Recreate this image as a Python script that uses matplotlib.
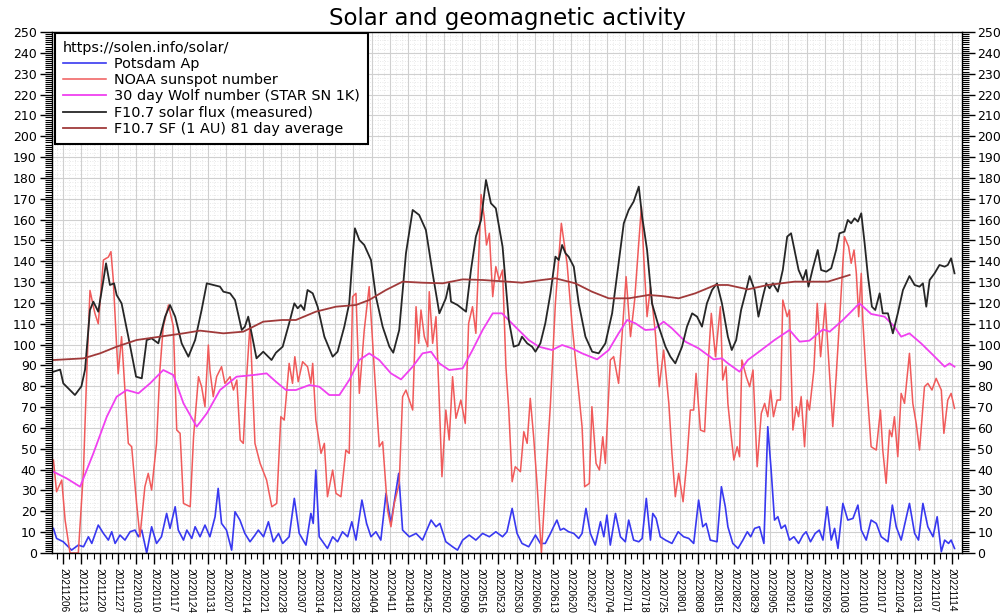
import matplotlib
matplotlib.use("Agg")
import matplotlib.pyplot as plt
from matplotlib.ticker import MultipleLocator

plt.rcParams['font.family'] = ['DejaVu Sans']

# x values are days counted from 2021-12-06 (first labelled week)
week_labels = ['20211206', '20211213', '20211220', '20211227', '20220103', '20220110',
               '20220117', '20220124', '20220131', '20220207', '20220214', '20220221',
               '20220228', '20220307', '20220314', '20220321', '20220328', '20220404',
               '20220411', '20220418', '20220425', '20220502', '20220509', '20220516',
               '20220523', '20220530', '20220606', '20220613', '20220620', '20220627',
               '20220704', '20220711', '20220718', '20220725', '20220801', '20220808',
               '20220815', '20220822', '20220829', '20220905', '20220912', '20220919',
               '20220926', '20221003', '20221010', '20221017', '20221024', '20221031',
               '20221107', '20221114']

ap_day = [-3.8, -2.6, 0, 3.2, 5.8, 7.8, 9.7, 11, 13.5, 15.5, 17.4, 18.7, 20, 21.9, 23.8, 25.8,
          27.7, 29, 30.3, 32.2, 34.1, 36, 37.9, 39.9, 41.2, 43.2, 44.4, 46.4, 47.7, 49.6, 50.9,
          52.8, 54.7, 56.6, 58.6, 59.8, 61.1, 63, 65, 66.3, 68.2, 70.1, 72.1, 74, 75.3, 77.3,
          79.2, 81.1, 83.1, 84.7, 87.2, 89.2, 91.1, 93.7, 95.6, 96.5, 97.5, 98.8, 102, 104,
          105.9, 107.8, 109.8, 111.4, 113, 115.3, 117.1, 118.8, 120.7, 122.6, 124.6, 126.5,
          129.5, 131, 133.6, 136.2, 138.7, 142, 143.9, 145.4, 147.7, 150.3, 152.2, 154.2, 156.7,
          159.3, 161.9, 164.5, 167, 169.6, 171.3, 173.3, 175.2, 177.1, 179.7, 182.3, 184.2,
          186.1, 188.1, 189.3, 190.6, 191.9, 193.2, 195.1, 197.1, 199, 200.3, 201.8, 203.5,
          205.4, 207.4, 208.7, 209.9, 211.2, 213.2, 215.1, 217, 218.3, 220.2, 222.2, 223.5,
          225.1, 226.7, 227.6, 228.9, 230.5, 232.5, 235, 237.4, 239.5, 241.5, 243.4, 245.3,
          246.9, 248.2, 249.8, 252.4, 254.1, 255.6, 256.6, 258.5, 260.5, 262.4, 264.1, 265.4,
          266.9, 268.8, 270.5, 272, 273.3, 274.6, 275.9, 277.2, 278.7, 280.4, 282.1, 283.9,
          285.6, 286.8, 288.5, 290.3, 291.9, 293.3, 294.9, 296.5, 297.8, 299.1, 301, 302.9,
          304.9, 306.8, 308.1, 310, 311.9, 313.9, 315.8, 318.4, 320.1, 321.6, 323.5, 326.7,
          328.7, 330.2, 331.9, 333.8, 335.8, 337.4, 339, 340.3, 341.8, 342.8, 344.1]
ap_val = [11.8, 7, 5.4, 1.4, 3.8, 3, 7.8, 4.6, 13.4, 9.4, 6.2, 10.2, 4.6, 8.6, 6.2, 10.2,
          11, 7.8, 11, 0, 12.6, 4.6, 7.8, 19, 11.8, 22.2, 11, 6.2, 11, 7, 12.6,
          7.8, 13.4, 7.8, 17.4, 31, 14.2, 11, 1.4, 19.8, 15.8, 9.4, 5.4, 8.6, 11, 7.8,
          15, 5.4, 9.4, 4.6, 7.8, 26.2, 9.4, 3.8, 19, 14.2, 39.8, 7.8, 2.2, 7.8,
          5.4, 10.2, 7.8, 15, 6.2, 25.4, 14.2, 7.8, 10.2, 6.2, 28.6, 14.2,
          38.2, 11, 7.8, 9.4, 6.2, 15.8, 12.6, 14.2, 5.4, 3, 1.4, 6.2, 8.6,
          6.2, 9.4, 7.8, 10.2, 7.8, 10.2, 21.4, 9.4, 4.6, 3, 8.6, 4.6,
          4.6, 9.4, 12.6, 15.8, 11, 11.8, 10.2, 9.4, 7, 9.4, 21.4, 9.4,
          3.8, 15, 7.8, 18.2, 3.8, 19, 7.8, 5.4, 15.8, 6.2, 5.4, 7,
          26.2, 6.2, 19, 16.6, 7.8, 6.2, 4.6, 10.2, 7.8, 7, 4.6, 25.4,
          12.6, 14.2, 6.2, 5.4, 31.8, 22.2, 12.6, 4.6, 2.2, 6.2, 10.2, 7.8,
          11.8, 12.6, 4.6, 60.6, 39.8, 15.8, 17.4, 11.8, 13.4, 6.2, 7.8, 4.6,
          8.6, 10.2, 5.4, 9.4, 11, 6.2, 22.2, 6.2, 11.8, 2.2, 23.8, 15.8,
          16.6, 23, 11, 6.2, 15.8, 14.2, 7.8, 5.4, 23, 12.6, 6.2, 23.8,
          9.4, 6.2, 23.8, 12.6, 7.8, 17.4, 0.6, 6.2, 4.6, 6.2, 2.2]

ssn_day = [-3.8, -2.6, -0.6, 0.7, 2.6, 5.8, 7.8, 9, 10.3, 12.2, 13.5, 15.5, 17.4, 18.4, 19.3,
           20.6, 21.2, 22.5, 23.8, 25.1, 26.4, 28.3, 29.6, 31.5, 32.8, 34.1, 36, 37.3, 38.6,
           40.6, 42.5, 43.8, 45.1, 46.4, 49, 50.3, 52.2, 53.4, 54.7, 56, 56.6, 57.9, 59.2,
           61.1, 62.4, 64.4, 65.7, 67, 68.3, 69.5, 70.8, 72.1, 74, 76, 78.5, 80.5, 82.4,
           84, 85.3, 87.2, 88.5, 89.4, 90.7, 92.4, 94.3, 95.6, 96.3, 97.5, 99.5, 100.8, 102,
           104, 105.3, 107.2, 109.1, 110.4, 111.7, 113, 114.3, 116.2, 118.1, 120.1, 122,
           123.3, 125.2, 126.5, 127.8, 129.7, 131, 132.3, 133.6, 134.9, 136.2, 137.2, 138.1,
           139.4, 140.7, 141.3, 142.6, 143.9, 145.2, 146.2, 147.7, 149, 150.3, 151.6, 153.5,
           155.2, 156.5, 158, 159.3, 161.3, 162.5, 163.4, 164.5, 165.8, 167, 168.3, 169.6,
           170.9, 172, 173.3, 174.5, 176.5, 177.8, 179.1, 180.3, 181.6, 182.9, 184.6, 186.1,
           188.1, 190, 192.3, 194.5, 196.4, 198.4, 200.3, 201.3, 203.1, 204.1, 205.7, 207,
           208.3, 209.3, 211.2, 212.5, 214.4, 215.7, 217.3, 219, 220.6, 222.2, 223.2, 224.1,
           225.4, 226.7, 228.6, 230.1, 231.8, 233.8, 235, 236.3, 237.6, 239.3, 240.8, 242.1,
           243.4, 244.3, 246, 247.6, 248.9, 250.2, 251.8, 253.7, 254.6, 255.9, 256.6, 257.9,
           258.9, 260.2, 261.1, 262, 263.7, 265, 266.3, 267.9, 269.5, 270.8, 272, 273.1,
           274.2, 275.6, 276.9, 277.8, 279.5, 280.4, 281.7, 283, 283.9, 284.9, 286.2, 287.2,
           288.1, 289.8, 291.1, 292.4, 294.2, 295.2, 297.1, 298.4, 300.1, 301.6, 303.2, 304.2,
           305.3, 306.2, 307.1, 308.1, 308.7, 310, 311.9, 313.9, 315.5, 316.4, 317.7, 319,
           319.9, 320.9, 322.2, 323.5, 324.8, 326.7, 328, 329.3, 330.6, 332.5, 333.8, 335.4,
           337, 339, 340, 341.5, 342.8, 344.1]
ssn_val = [44.6, 29.4, 35, 15.8, 0, 0, 39.8, 84.6, 126, 115, 110, 140.6, 142, 144.6, 131,
           99, 86, 103.8, 78, 52.6, 51, 23.8, 7.8, 31.8, 38.2, 30.2, 52.6, 87.8, 108.6,
           119, 108.6, 59, 57.4, 23.8, 22.2, 55.8, 84.6, 79.8, 70.2, 99.8, 87.8, 75, 84.6,
           89.4, 81.4, 84.6, 78.2, 83, 54.2, 52.6, 84.6, 110, 52.6, 43, 35, 22.2, 23.8,
           65.4, 63.8, 91, 81.4, 94.2, 82.2, 91.8, 89.4, 81.4, 91, 63.8, 47.8, 52.6, 27,
           39.8, 28.6, 27, 49.4, 47.8, 123, 124.6, 76.6, 107, 127.8, 87.8, 51,
           53.4, 20.6, 12.6, 23.8, 33.4, 75, 78.2, 73.4, 68.6, 118.2, 100.6, 116.6,
           103.8, 99, 125.4, 100.6, 113.4, 71.8, 36.6, 68.6, 54.2, 84.6, 64.6, 73.4,
           62.2, 110.2, 118.2, 105.4, 172, 161.4, 147.8, 153.4, 123, 137.4, 131, 135.8,
           89.4, 68.6, 34.2, 41.4, 39, 58.2, 52.6, 74.2, 55.8, 33.4, 0, 31.8,
           71.8, 119.8, 158.2, 139, 110.2, 84.6, 60.6, 31.8, 33.4, 70.2, 43, 39.8,
           55.8, 43, 92.6, 94.2, 81.4, 103.8, 132.6, 103.8, 121.4, 148.6, 166.2, 142.2,
           113.4, 127.8, 105.4, 79.8, 97.4, 71.8, 47.8, 27, 38.2, 24.6, 44.6, 68.6,
           68.6, 86.2, 59, 58.2, 89.4, 115, 94.2, 118.2, 83, 89.4, 71.8, 55.8,
           44.6, 51, 46.2, 92.6, 84.6, 79.8, 87.8, 41.4, 67, 71.8, 65.4, 78.2,
           65.4, 73.4, 73.4, 121.4, 113.4, 116.6, 59, 70.2, 65.4, 75, 51, 73.4,
           68.6, 87.8, 119.8, 94.2, 119.8, 99, 60.6, 84.6, 119.8, 151.8, 147, 139,
           145.4, 134.2, 113.4, 134.2, 111.8, 84.6, 51, 49.4, 68.6, 49.4, 33.4, 59,
           55.8, 65.4, 46.2, 76.6, 71.8, 95.8, 71.8, 62.2, 49.4, 79.8, 81.4, 78.2,
           83.8, 78.2, 57.4, 73.4, 76.6, 69.4]

wolf_day = [-3.8, 1.3, 6.5, 11.6, 16.8, 20.6, 24.5, 29, 33.5, 38.6, 42.5, 46.4, 51.5, 55.4,
            60.5, 66.9, 73.4, 78.5, 82.1, 86, 89.8, 95, 98.8, 102.7, 106.6, 110.4, 114.3,
            118.1, 122, 126.5, 130.4, 134.9, 138.7, 142, 145.2, 149, 154.2, 158, 161.9,
            165.8, 169.4, 174.5, 179.7, 183.6, 188.7, 192.6, 196.4, 200.3, 206.1, 210.6,
            214.4, 217.7, 220.9, 224.7, 228, 231.8, 235, 240.2, 245.3, 251.1, 254.3, 256.6,
            261.1, 264.3, 269.5, 274.6, 280.4, 284.3, 288.1, 293.3, 295.9, 301, 307.4, 311.9,
            317.1, 320.9, 323.5, 326.7, 331.2, 335.8, 340.3, 342.2, 344.1]
wolf_val = [39, 35.8, 31.8, 47.8, 65.4, 75, 78.2, 76.6, 81.4, 87.8, 85.4, 71.8, 60.6, 67,
            78.2, 84.6, 85.4, 86.2, 82.2, 78.2, 78.2, 80.6, 79.8, 75.8, 75.8, 83, 92.6,
            95.8, 92.6, 86.2, 83.3, 89.4, 95.8, 96.6, 91, 87.8, 88.6, 97.4, 107,
            115, 115, 108.6, 102.2, 99, 97.4, 99.8, 98.2, 95.8, 92.9, 97.4,
            105.4, 111.8, 110.2, 107, 107.3, 111, 107.8, 101.4, 98.2, 92.9, 93.4, 91,
            87, 92.6, 97.4, 102.2, 107, 101.4, 101.9, 107.3, 106.2, 111.8, 119.8, 114.7,
            113.4, 108.6, 103.8, 105.4, 100.6, 95, 89.4, 91, 89.4]

flux_day = [-3.8, -1.2, 0, 4.5, 7, 8.4, 10.3, 11.6, 13.5, 15.5, 16.5, 18, 19.6, 20.6, 22.5,
            25.1, 28.1, 30.3, 32.2, 34.1, 36.7, 39.3, 41.2, 43.2, 45.7, 48.3, 50.9, 53.4,
            55.4, 57.9, 60.5, 61.8, 64.4, 66.3, 68.9, 70.1, 71.4, 72.7, 74.6, 77.2, 80.4,
            82.1, 84.7, 87.2, 89.2, 90.5, 91.7, 93, 94.3, 96.3, 98.2, 100.8, 104, 105.9,
            108.5, 110.4, 111.7, 112.6, 114.3, 116.2, 118.8, 120.7, 123.3, 125.9, 127.4,
            129.7, 132.3, 134.9, 137.4, 140, 142.6, 145.2, 147.7, 149, 149.7, 152.2, 155.5,
            157.4, 159.3, 161.3, 163.2, 165.1, 167, 169.6, 170.7, 172, 173.9, 175.8, 177.1,
            179.1, 181, 182.3, 184.2, 186.1, 188.1, 190, 191.3, 192.6, 193.9, 195.1, 197.1,
            199, 201.6, 204.2, 206.7, 209.3, 211.9, 214.4, 216.4, 218.3, 220.2, 222.2, 223.5,
            225.4, 227.3, 229.9, 232.5, 234.4, 236.3, 238.9, 240.8, 242.8, 244.7, 246.6,
            248.5, 250.5, 252.4, 254.3, 256.6, 258.1, 259.8, 261.7, 263.7, 265, 266.9, 268.4,
            270.1, 271.4, 272.7, 274, 275.9, 277.8, 279.5, 281, 282.3, 283.9, 285.6, 286.8,
            287.7, 289.4, 291.3, 292.6, 294.6, 296.5, 298.4, 299.7, 301.6, 302.9, 304.2,
            305.5, 306.8, 308.1, 309.4, 310.7, 312.2, 313.5, 315.2, 316.4, 318.4, 320.3,
            322.2, 324.2, 326.7, 328.7, 330.6, 331.9, 333.2, 334.5, 336.4, 338.3, 340.3,
            341.5, 342.8, 344.1]
flux_val = [87, 88, 81.4, 75.8, 80, 88, 116.6, 120.6, 115.8, 131, 139, 128.6, 129.4, 123.8, 119.8,
            103.8, 84.6, 83.8, 102.2, 103, 100.6, 113.4, 119, 113.4, 100.6, 94.2, 102.2, 116.6,
            129.4, 128.6, 127.8, 125.4, 124.6, 121.4, 107, 108.6, 113.4, 105.4, 93.4, 96.6, 92.6,
            96.1, 99, 110.2, 119.8, 117.4, 119, 116.6, 126.2, 124.6, 118.2, 103.8, 94.2, 96.6,
            108.6, 119.8, 142.2, 155.8, 150.2, 147.8, 140.6, 123, 108.6, 99, 96.1,
            107, 143.8, 164.6, 162.2, 155, 134.2, 115, 122.2, 129.4, 120.6, 119, 115.8,
            135.8, 151.8, 159.8, 179, 167.8, 165.4, 147, 131, 111.8, 99, 99.8, 103.8,
            100.6, 99, 96.6, 100.6, 110.2, 124.6, 142.2, 140.6, 147.8, 143.8, 142.2, 137.4,
            119.8, 103.8, 96.6, 95.8, 100.6, 115, 139, 158.2, 164.6, 168.6, 175.8, 161.4,
            145.4, 119.8, 108.6, 99, 94.2, 91, 99, 108.6, 115, 113.4, 108.6,
            119.8, 126.2, 129.4, 119.8, 103.8, 97.4, 102.2, 116.6, 126.2, 132.9, 126.2, 113.4,
            123, 129.4, 127, 129.4, 125.4, 135.8, 151.8, 153.4, 145.4, 135.8, 131, 135.8,
            127.8, 136.6, 145.4, 135.8, 135, 136.6, 145.4, 153.4, 154.2, 159.8, 158.2,
            160.6, 159, 163, 148.6, 132.6, 118.2, 116.6, 124.6, 115, 115, 105.4,
            115, 126.2, 132.9, 128.6, 127.8, 129.4, 118.2, 131, 134.2, 138.2, 137.4,
            138.2, 141.4, 134.2]

avg81_day = [-3.8, 7.8, 14.2, 20.6, 28.3, 37.3, 46.4, 52.8, 61.8, 69.5, 77.2, 84.4, 89.8, 97.5,
             105.3, 113, 118.1, 124.6, 131, 138.7, 146.5, 154.2, 161.9, 171.7, 177.1, 184.8,
             190, 197.7, 204.1, 210.6, 218.3, 226, 231.2, 237.6, 244, 251.8, 256.6, 264.3,
             272, 282.3, 295.2, 303.6]
avg81_val = [92.6, 93.4, 95.8, 99, 102.2, 103.8, 105.4, 106.7, 105.4, 106.2, 111, 111.8, 111.8,
             115.8, 118.2, 119, 121.4, 126.2, 130.2, 129.7, 129.4, 131.3, 131, 130.2, 129.7,
             131, 131.8, 129.4, 125.4, 122.2, 122.2, 123.8, 123.3, 122.2, 124.6, 128.6, 128.6,
             126.5, 128.6, 130.2, 130.2, 133.4]

fig = plt.figure(figsize=(10.02, 6.15), dpi=100)
ax = fig.add_axes([0.0519, 0.1008, 0.9082, 0.8472])

ax.plot(ap_day, ap_val, color='#3838f0', lw=1.2, label='Potsdam Ap')
ax.plot(ssn_day, ssn_val, color='#f05a5a', lw=1.1, label='NOAA sunspot number')
ax.plot(wolf_day, wolf_val, color='#f040f0', lw=1.3, label='30 day Wolf number (STAR SN 1K)')
ax.plot(flux_day, flux_val, color='#262626', lw=1.3, label='F10.7 solar flux (measured)')
ax.plot(avg81_day, avg81_val, color='#a03a3a', lw=1.3, label='F10.7 SF (1 AU) 81 day average')

ax.set_xlim(-4.36, 347.0)
ax.set_ylim(0, 250)

ax.set_xticks([7 * i for i in range(len(week_labels))])
ax.set_xticklabels(week_labels, rotation=-90, fontsize=7.2, family='Liberation Sans')
ax.xaxis.set_minor_locator(MultipleLocator(7 / 3))
ax.yaxis.set_major_locator(MultipleLocator(10))
ax.yaxis.set_minor_locator(MultipleLocator(1))

ax.tick_params(axis='y', which='both', left=True, right=True, labelleft=True,
               labelright=True, direction='out', labelsize=9, pad=2)
ax.tick_params(axis='y', which='major', length=9, width=1)
ax.tick_params(axis='y', which='minor', length=5, width=0.8)
ax.tick_params(axis='x', which='major', length=8, width=1, pad=3)
ax.tick_params(axis='x', which='minor', length=4, width=0.8)

ax.grid(which='major', color='#d0d0d0', lw=0.8, ls='-')
ax.set_axisbelow(True)
for y in range(2, 250, 2):
    if y % 10:
        ax.axhline(y, color='#e2e2e2', lw=0.6, ls=(0, (1, 2)), zorder=0)
for k in range(-1, 149):
    if k % 3:
        ax.axvline(k * 7 / 3, color='#e2e2e2', lw=0.6, ls=(0, (1, 2)), zorder=0)

for s in ax.spines.values():
    s.set_linewidth(1.0)

leg = ax.legend(loc='upper left', bbox_to_anchor=(0.003, 0.998), borderaxespad=0,
                title='https://solen.info/solar/', alignment='left', fontsize=10.4,
                title_fontsize=10.4, fancybox=False, framealpha=1, edgecolor='black',
                handlelength=3.0, handletextpad=0.55, labelspacing=0.15, borderpad=0.55)
leg.get_frame().set_linewidth(1.5)

ax.set_title('Solar and geomagnetic activity', fontsize=16.5, pad=5)

fig.savefig('out.png', dpi=100)
